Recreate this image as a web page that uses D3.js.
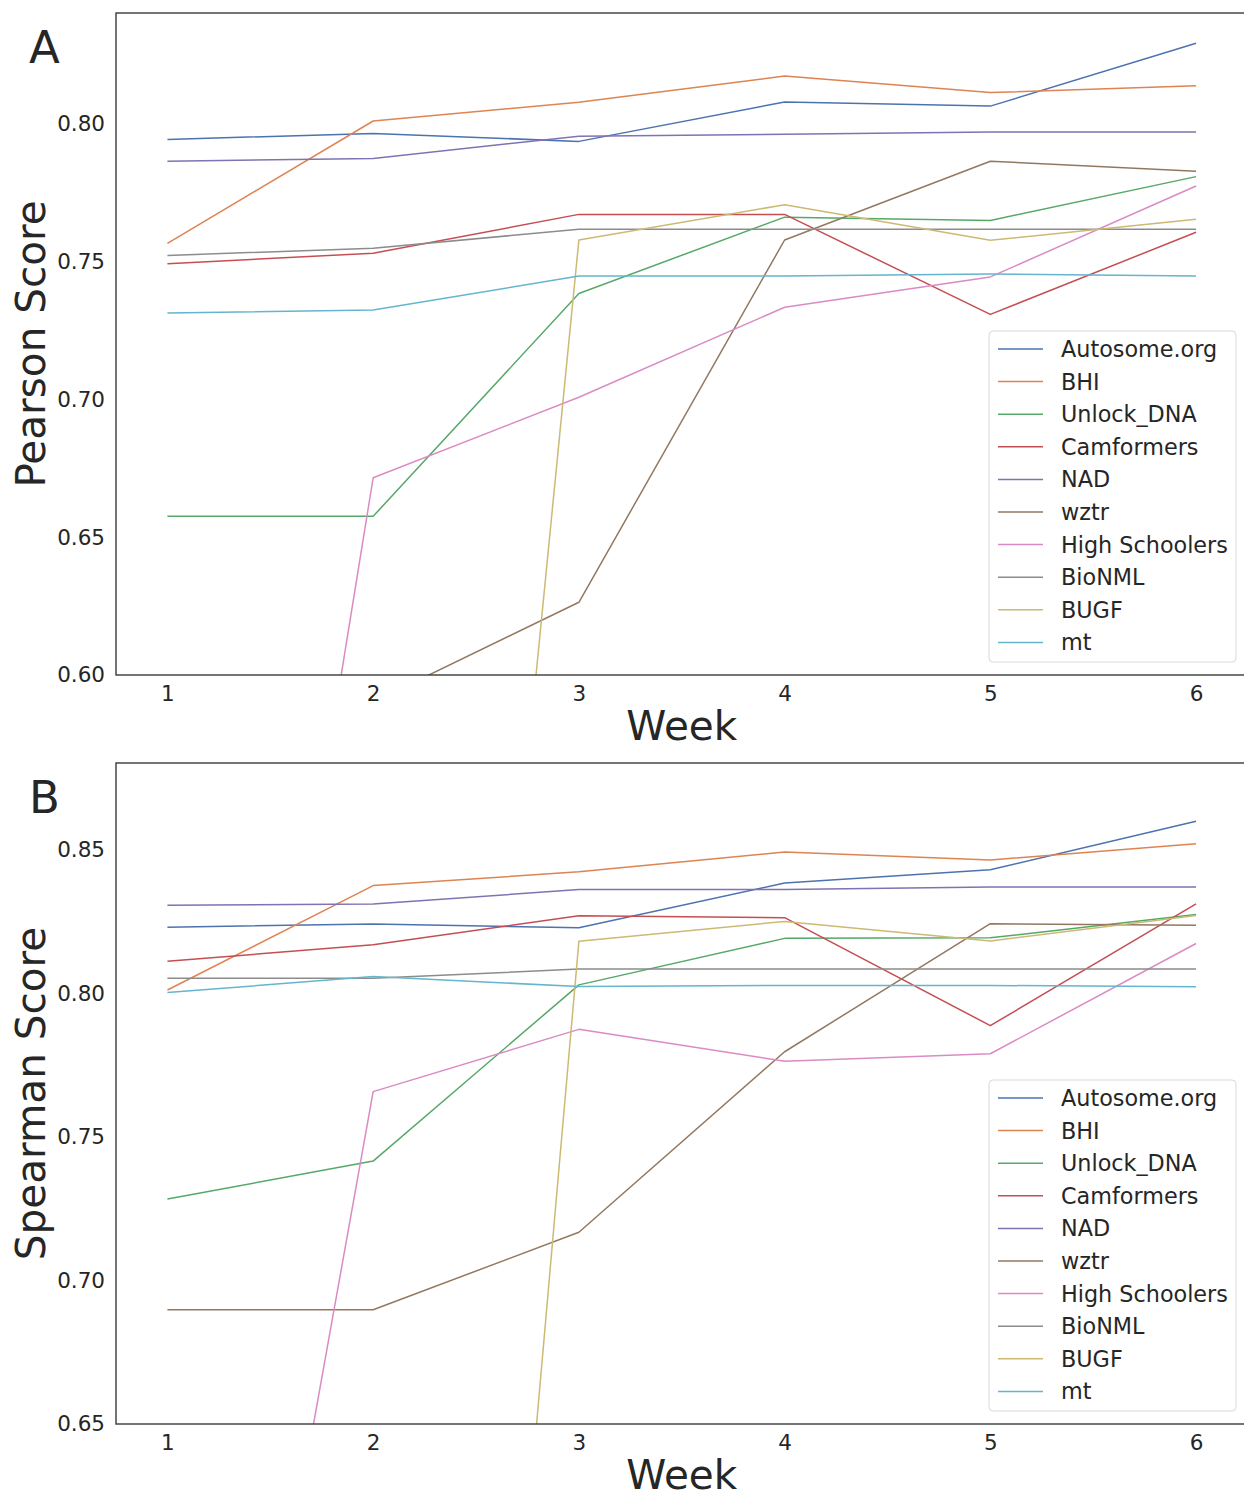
<!DOCTYPE html>
<html>
<head>
<meta charset="utf-8">
<script src="https://cdn.jsdelivr.net/npm/d3@7"></script>
<style>
  html, body { margin: 0; padding: 0; background: #fff; }
  svg { display: block; }
  text { font-family: "DejaVu Sans", sans-serif; fill: #262626; }
</style>
</head>
<body>
<svg id="chart" width="1244" height="1492"></svg>
<script>
// Weekly leaderboard scores per team
const weeks = [1, 2, 3, 4, 5, 6];
const teams = ["Autosome.org", "BHI", "Unlock_DNA", "Camformers", "NAD", "wztr",
               "High Schoolers", "BioNML", "BUGF", "mt"];
const teamColors = ["#4C72B0", "#DD8452", "#55A868", "#C44E52", "#8172B3",
                    "#937860", "#DA8BC3", "#8C8C8C", "#CCB974", "#64B5CD"];

// Pearson score, one row per team (same order as `teams`)
const pearsonScores = [
  [0.7944, 0.7966, 0.7937, 0.8080, 0.8065, 0.8293],
  [0.7567, 0.8011, 0.8079, 0.8174, 0.8114, 0.8139],
  [0.6576, 0.6576, 0.7385, 0.7662, 0.7650, 0.7809],
  [0.7493, 0.7531, 0.7672, 0.7672, 0.7309, 0.7607],
  [0.7865, 0.7875, 0.7956, 0.7963, 0.7971, 0.7971],
  [0.5900, 0.5902, 0.6264, 0.7579, 0.7865, 0.7829],
  [0.2106, 0.6716, 0.7008, 0.7335, 0.7445, 0.7775],
  [0.7523, 0.7549, 0.7618, 0.7618, 0.7618, 0.7618],
  [0.0000, 0.0000, 0.7579, 0.7707, 0.7578, 0.7654],
  [0.7314, 0.7325, 0.7448, 0.7448, 0.7456, 0.7448]
];

// Spearman score, one row per team (same order as `teams`)
const spearmanScores = [
  [0.8231, 0.8242, 0.8229, 0.8385, 0.8431, 0.8600],
  [0.8012, 0.8376, 0.8424, 0.8493, 0.8465, 0.8522],
  [0.7284, 0.7416, 0.8030, 0.8192, 0.8194, 0.8275],
  [0.8112, 0.8170, 0.8271, 0.8264, 0.7888, 0.8312],
  [0.8307, 0.8312, 0.8362, 0.8362, 0.8371, 0.8371],
  [0.6898, 0.6898, 0.7168, 0.7797, 0.8243, 0.8238],
  [0.3663, 0.7658, 0.7875, 0.7764, 0.7790, 0.8174],
  [0.8053, 0.8053, 0.8085, 0.8085, 0.8085, 0.8085],
  [0.0000, 0.0000, 0.8182, 0.8251, 0.8183, 0.8272],
  [0.8003, 0.8059, 0.8024, 0.8028, 0.8028, 0.8023]
];

const pearsonTicks = [0.60, 0.65, 0.70, 0.75, 0.80];
const spearmanTicks = [0.65, 0.70, 0.75, 0.80, 0.85];

const svg = d3.select("#chart");

function drawPanel(cfg) {
  const { id, letter, top, bottom, yDomain, yTicks, yLabel, scores } = cfg;
  const left = 116, right = 1247.5;

  const x = d3.scaleLinear().domain([0.75, 6.25]).range([left, right]);
  const y = d3.scaleLinear().domain(yDomain).range([bottom, top]);

  const g = svg.append("g");

  g.append("clipPath").attr("id", "clip-" + id)
    .append("rect")
    .attr("x", left).attr("y", top)
    .attr("width", right - left).attr("height", bottom - top);

  // series lines
  const line = d3.line().x((d, i) => x(weeks[i])).y(d => y(d));
  const lines = g.append("g").attr("clip-path", `url(#clip-${id})`);
  scores.forEach((row, k) => {
    lines.append("path")
      .datum(row)
      .attr("d", line)
      .attr("fill", "none")
      .attr("stroke", teamColors[k])
      .attr("stroke-width", 1.5)
      .attr("stroke-linejoin", "round");
  });

  // frame
  g.append("rect")
    .attr("x", left).attr("y", top)
    .attr("width", right - left).attr("height", bottom - top)
    .attr("fill", "none").attr("stroke", "#3a3a3a").attr("stroke-width", 1.4);

  // y axis (labels only)
  const yAxis = d3.axisLeft(y).tickValues(yTicks).tickFormat(d3.format(".2f"))
    .tickSize(0).tickPadding(11);
  const ya = g.append("g").attr("transform", `translate(${left},0)`).call(yAxis);
  ya.select(".domain").remove();
  ya.selectAll("text").attr("font-size", 21.5).attr("fill", "#262626")
    .attr("font-family", "DejaVu Sans, sans-serif");

  // x axis (labels only)
  const xAxis = d3.axisBottom(x).tickValues(weeks).tickFormat(d3.format("d"))
    .tickSize(0).tickPadding(11);
  const xa = g.append("g").attr("transform", `translate(0,${bottom})`).call(xAxis);
  xa.select(".domain").remove();
  xa.selectAll("text").attr("font-size", 21.5).attr("fill", "#262626")
    .attr("font-family", "DejaVu Sans, sans-serif");

  // axis titles
  g.append("text")
    .attr("x", x(3.5)).attr("y", bottom + 65)
    .attr("text-anchor", "middle").attr("font-size", 40.5)
    .text("Week");
  g.append("text")
    .attr("transform", `translate(45,${(top + bottom) / 2}) rotate(-90)`)
    .attr("text-anchor", "middle").attr("font-size", 40.5)
    .text(yLabel);

  // panel letter
  g.append("text")
    .attr("x", 29).attr("y", top + 50)
    .attr("font-size", 45).attr("fill", "#000")
    .text(letter);

  // legend
  const lgW = 247, lgH = 331;
  const lgX = right - 11.5 - lgW, lgY = bottom - 13 - lgH;
  const lg = g.append("g").attr("transform", `translate(${lgX},${lgY})`);
  lg.append("rect")
    .attr("width", lgW).attr("height", lgH).attr("rx", 4)
    .attr("fill", "#fff").attr("fill-opacity", 0.85)
    .attr("stroke", "#d9d9d9").attr("stroke-width", 1);
  teams.forEach((name, k) => {
    const cy = 18 + k * 32.6;
    lg.append("line")
      .attr("x1", 9).attr("x2", 54).attr("y1", cy).attr("y2", cy)
      .attr("stroke", teamColors[k]).attr("stroke-width", 1.5);
    lg.append("text")
      .attr("x", 72).attr("y", cy + 8)
      .attr("font-size", 22.3)
      .text(name);
  });
}

drawPanel({
  id: "a", letter: "A", top: 13, bottom: 675,
  yDomain: [0.60, 0.8403], yTicks: pearsonTicks,
  yLabel: "Pearson Score", scores: pearsonScores
});

drawPanel({
  id: "b", letter: "B", top: 763, bottom: 1424,
  yDomain: [0.65, 0.8803], yTicks: spearmanTicks,
  yLabel: "Spearman Score", scores: spearmanScores
});
</script>
</body>
</html>
